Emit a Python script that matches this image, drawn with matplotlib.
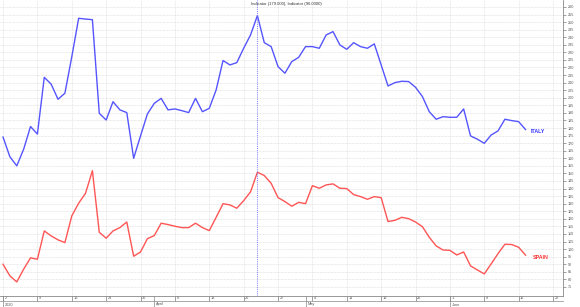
import numpy as np
import pandas as pd
import matplotlib
matplotlib.use('Agg')
import matplotlib.pyplot as plt
import matplotlib.transforms as mtransforms

plt.rcParams['font.family'] = ['Liberation Sans', 'DejaVu Sans']

dates = pd.bdate_range('2020-03-02', periods=77)

italy = [174, 161, 155, 166, 181, 176, 213.5, 209, 199, 203,
         227, 252.5, 252, 251.6, 189.7, 185.3, 197.4, 192, 190.2, 160,
         174.8, 189.3, 196.3, 199.6, 192, 192.6, 191.5, 190.2, 199.6, 190.8,
         193, 205.2, 224.6, 221.7, 223.2, 232.7, 241.5, 254.3, 236.4, 233.8,
         220.6, 216.2, 223.9, 226.7, 233.8, 233.8, 232.7, 241.5, 243.7, 234.9,
         232, 236.4, 233.8, 232.7, 235.6, 221.7, 207.8, 210, 210.9, 210.7,
         206.9, 200.8, 190.8, 185.8, 187.5, 187.1, 187.1, 192.6, 174.8, 172.6,
         169.9, 175.4, 178.1, 185.8, 184.9, 184.2, 179]

spain = [90, 82.3, 78.3, 86.7, 94.2, 93.3, 112, 108.7, 106.1, 104.3,
         121.9, 130.3, 136.9, 151.8, 111.1, 107.2, 112, 114.2, 117.9, 95.3,
         98.1, 106.9, 108.9, 117.1, 116.2, 115.1, 114.2, 114.2, 117.1, 114.2,
         112.2, 121, 130, 129.2, 127, 132, 137.8, 150.8, 148.6, 143.5,
         134, 131.4, 128.3, 130.9, 130, 141.9, 140.2, 142.4, 143.1, 140.2,
         140, 136, 134.7, 132.9, 134.7, 134, 118.2, 119, 121, 120.1,
         117.9, 114.8, 107.8, 102.1, 99.4, 99.2, 96.1, 98.1, 88.9, 86.2,
         83.6, 90.2, 97, 103.2, 103, 101.2, 96]

cursor_day = 37

x = np.arange(len(dates))

fig = plt.figure(figsize=(5.8, 3.07), dpi=100)
ax = fig.add_axes([0, 11 / 307, 563 / 580, 296 / 307])

ax.plot(x, italy, color='#5555ff', lw=1.0)
ax.plot(x, spain, color='#ff5555', lw=1.0)
ax.axvline(cursor_day, color='#7a7aff', lw=0.7, ls=(0, (1, 1.2)), zorder=3)

ax.set_xlim(-0.44, 81.45)
ax.set_ylim(69.0, 264.6)

# right value axis
ax.yaxis.tick_right()
ax.set_yticks(np.arange(75, 261, 5))
ax.tick_params(axis='y', labelsize=2.7, colors='#555555', length=2, width=0.4, pad=1.5)

# weekly ticks (mondays) and month starts
mondays = [i for i, d in enumerate(dates) if d.weekday() == 0]
mondays.append(80)
week_labels = [str(dates[i].day) for i in mondays[:-1]] + ['22']
ax.set_xticks(mondays)
ax.set_xticklabels(week_labels)
ax.tick_params(axis='x', labelsize=2.8, colors='#555555', length=3.5, width=0.4, pad=-3.2)
offset = mtransforms.ScaledTranslation(1.5 / 100, 0, fig.dpi_scale_trans)
for lab in ax.get_xticklabels():
    lab.set_horizontalalignment('left')
    lab.set_transform(lab.get_transform() + offset)

month_idx = [0] + [i for i in range(1, len(dates)) if dates[i].month != dates[i - 1].month]
month_names = ['2020'] + [dates[i].strftime('%B') for i in month_idx[1:]]
trans = ax.get_xaxis_transform()
for i, name in zip(month_idx, month_names):
    ax.plot([i, i], [0, -11 / 296], transform=trans, color='#888888', lw=0.5, clip_on=False)
    ax.text(i + 0.3, -10.5 / 296, name, transform=trans, fontsize=2.8, color='#555555',
            ha='left', va='bottom')
ax.plot([-0.44, 81.45], [-5 / 296, -5 / 296], transform=trans, color='#888888', lw=0.5, clip_on=False)

ax.grid(True, which='major', color='#d8d8d8', lw=0.5, ls=(0, (1, 1)))

for s in ['top', 'left']:
    ax.spines[s].set_visible(False)
ax.spines['right'].set_color('#888888')
ax.spines['bottom'].set_color('#888888')
ax.spines['right'].set_linewidth(0.6)
ax.spines['bottom'].set_linewidth(0.6)

ax.text(76.8, 177.4, 'ITALY', color='#3333ff', fontsize=3.8, fontweight='bold', va='center', ha='left')
ax.text(77.1, 94.2, 'SPAIN', color='#ff3333', fontsize=3.8, fontweight='bold', va='center', ha='left')

fig.text(286 / 580, 1 - 4 / 307, 'Indicator (179.000), Indicator (96.0000)',
         fontsize=3.0, color='#333333', ha='center', va='center')

fig.savefig('out.png', dpi=100)
